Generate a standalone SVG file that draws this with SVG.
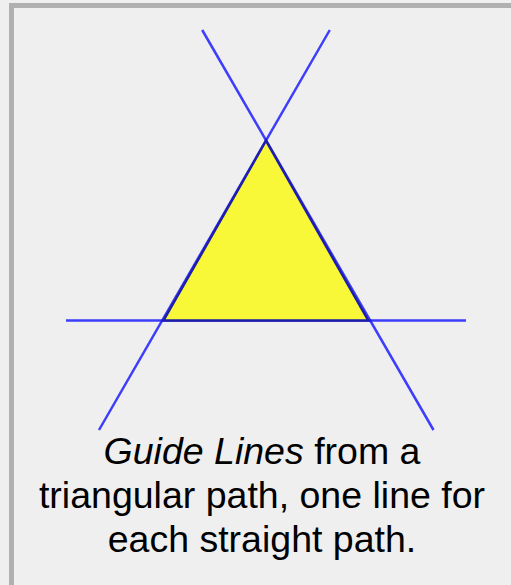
<svg xmlns="http://www.w3.org/2000/svg" width="511" height="585" viewBox="0 0 511 585">
<style>
.guide{stroke:#1010ff;stroke-width:2.5;fill:none;stroke-opacity:0.8}
.cap{font-family:"Liberation Sans",Arial,sans-serif;font-size:37.5px;fill:#000;text-anchor:middle}
</style>
<rect x="0" y="0" width="511" height="585" fill="#efefef"/>
<path d="M11.5 585 V5.5 H511" fill="none" stroke="#b0b0b0" stroke-width="5"/>
<g id="guides">
<line class="guide" x1="66" y1="320.5" x2="466" y2="320.5" stroke-opacity="0.55"/>
<line class="guide" x1="202.2" y1="30" x2="433.5" y2="430"/>
<line class="guide" x1="329.8" y1="30" x2="99" y2="430"/>
</g>
<g id="triangle">
<path d="M266 140.7 L368.3 320.5 L163.5 320.5 Z" fill="#f8f838" stroke="#1e1ea8" stroke-width="2.5" stroke-linejoin="miter"/>
</g>
<g id="caption">
<text class="cap" x="262" y="463.5"><tspan font-style="italic">Guide Lines</tspan> from a</text>
<text class="cap" x="262" y="507.5">triangular path, one line for</text>
<text class="cap" x="262" y="551.5">each straight path.</text>
</g>
</svg>
